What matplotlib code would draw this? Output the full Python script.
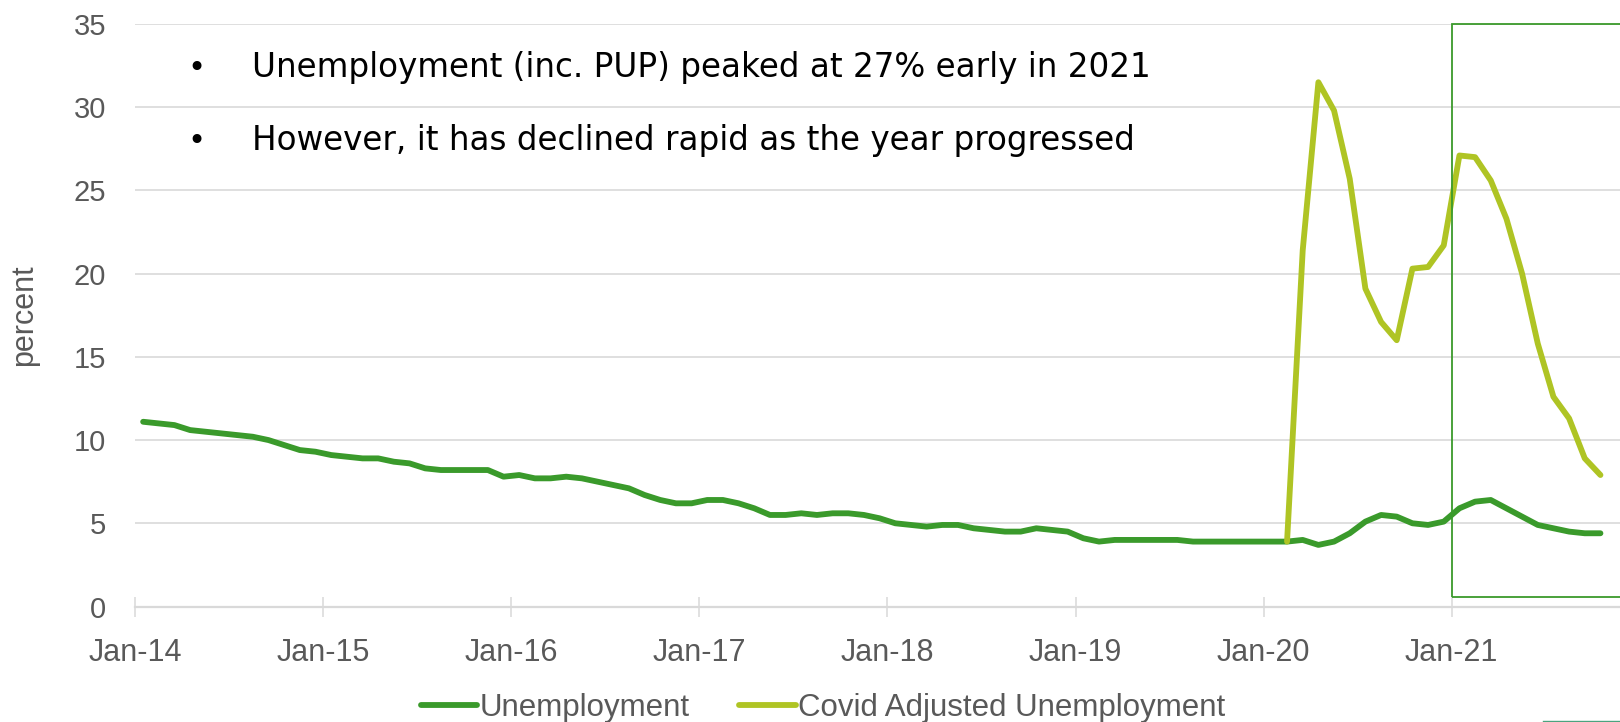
import numpy as np
import pandas as pd
import matplotlib
matplotlib.use("Agg")
import matplotlib.pyplot as plt
from matplotlib.patches import Rectangle
from matplotlib.lines import Line2D

# ---------------- data ----------------
months = pd.date_range("2014-01-01", periods=94, freq="MS")

unemployment = [
    11.1, 11.0, 10.9, 10.6, 10.5, 10.4, 10.3, 10.2, 10.0, 9.7, 9.4, 9.3,   # 2014
    9.1, 9.0, 8.9, 8.9, 8.7, 8.6, 8.3, 8.2, 8.2, 8.2, 8.2, 7.8,            # 2015
    7.9, 7.7, 7.7, 7.8, 7.7, 7.5, 7.3, 7.1, 6.7, 6.4, 6.2, 6.2,            # 2016
    6.4, 6.4, 6.2, 5.9, 5.5, 5.5, 5.6, 5.5, 5.6, 5.6, 5.5, 5.3,            # 2017
    5.0, 4.9, 4.8, 4.9, 4.9, 4.7, 4.6, 4.5, 4.5, 4.7, 4.6, 4.5,            # 2018
    4.1, 3.9, 4.0, 4.0, 4.0, 4.0, 4.0, 3.9, 3.9, 3.9, 3.9, 3.9,            # 2019
    3.9, 3.9, 4.0, 3.7, 3.9, 4.4, 5.1, 5.5, 5.4, 5.0, 4.9, 5.1,            # 2020
    5.9, 6.3, 6.4, 5.9, 5.4, 4.9, 4.7, 4.5, 4.4, 4.4,                      # 2021
]

covid_start = 73  # Feb-20
covid_adjusted = [
    3.9, 21.4, 31.5, 29.8, 25.7, 19.1, 17.1, 16.0, 20.3, 20.4, 21.7,       # Feb-20 .. Dec-20
    27.1, 27.0, 25.6, 23.3, 20.0, 15.8, 12.6, 11.3, 8.9, 7.9,              # Jan-21 .. Oct-21
]

tick_labels = ["Jan-14", "Jan-15", "Jan-16", "Jan-17", "Jan-18", "Jan-19", "Jan-20", "Jan-21"]
y_ticks = [0, 5, 10, 15, 20, 25, 30, 35]

bullets = [
    "Unemployment (inc. PUP) peaked at 27% early in 2021",
    "However, it has declined rapid as the year progressed",
]

# ---------------- style ----------------
C_UNEMP = "#3a9a2b"
C_COVID = "#afc424"
C_GRID = "#d9d9d9"
C_TEXT = "#595959"

W, H = 1620, 722
fig = plt.figure(figsize=(W / 100, H / 100), dpi=100)

x0_px, y0_px = 135.3, 606.5      # position of (Jan-14, 0) in pixels from top-left
ytop_px = 24.0
ax = fig.add_axes([x0_px / W, (H - y0_px) / H, (W - x0_px) / W, (y0_px - ytop_px) / H])

n = len(unemployment)
x = np.arange(n) + 0.5
xc = np.arange(covid_start, covid_start + len(covid_adjusted)) + 0.5

ax.plot(x, unemployment, color=C_UNEMP, lw=4.2, solid_capstyle="round",
        solid_joinstyle="round", label="Unemployment", zorder=3)
ax.plot(xc, covid_adjusted, color=C_COVID, lw=4.2, solid_capstyle="round",
        solid_joinstyle="round", label="Covid Adjusted Unemployment", zorder=3)

ax.set_xlim(0, (W - x0_px) / 15.67)
ax.set_ylim(0, 35)

ax.set_xticks(np.arange(0, 12 * len(tick_labels), 12))
ax.set_xticklabels(tick_labels)
ax.set_yticks(y_ticks)
ax.set_yticklabels([str(v) for v in y_ticks])

for s in ["left", "right", "top"]:
    ax.spines[s].set_visible(False)
ax.spines["bottom"].set_color(C_GRID)
ax.spines["bottom"].set_linewidth(1.6)

ax.grid(axis="y", color=C_GRID, lw=1.2, zorder=0)
ax.set_axisbelow(True)

ax.tick_params(axis="x", direction="inout", length=14, width=1.1, color=C_GRID,
               labelsize=22, labelcolor=C_TEXT, pad=16)
ax.tick_params(axis="y", length=0, labelsize=21, labelcolor=C_TEXT, pad=21)
for lab in ax.get_xticklabels() + ax.get_yticklabels():
    lab.set_family("Liberation Sans")

ax.set_ylabel("percent", fontsize=22, color=C_TEXT, family="Liberation Sans", labelpad=0)
ax.yaxis.set_label_coords(-(x0_px - 39) / (W - x0_px), 0.5)

# highlight box starting Jan-21
rect = Rectangle((84, 0.57), 30, 34.4, fill=False, edgecolor=C_UNEMP, lw=1.3,
                 clip_on=False, zorder=4)
ax.add_patch(rect)

# bullet text
for txt, base in zip(bullets, [77, 150]):
    fig.text(196 / W, 1 - base / H, "\u2022", fontsize=22, ha="center", va="baseline",
             color="black", family="DejaVu Sans")
    fig.text(252 / W, 1 - base / H, txt, fontsize=23.5, ha="left", va="baseline",
             color="black", family="DejaVu Sans")

# legend
leg = fig.legend(loc="center", bbox_to_anchor=(823 / W, 1 - 708 / H), ncol=2,
                 frameon=False, handlelength=1.8, handletextpad=0.08,
                 columnspacing=1.6, borderpad=0,
                 prop={"family": "Liberation Sans", "size": 22.5})
for t in leg.get_texts():
    t.set_color(C_TEXT)

# small accent line at the bottom-right corner
fig.add_artist(Line2D([1543 / W, 1.0], [1.5 / H, 1.5 / H], color="#4aa37e", lw=1.0,
                      transform=fig.transFigure))

fig.savefig("out.png", dpi=100)
